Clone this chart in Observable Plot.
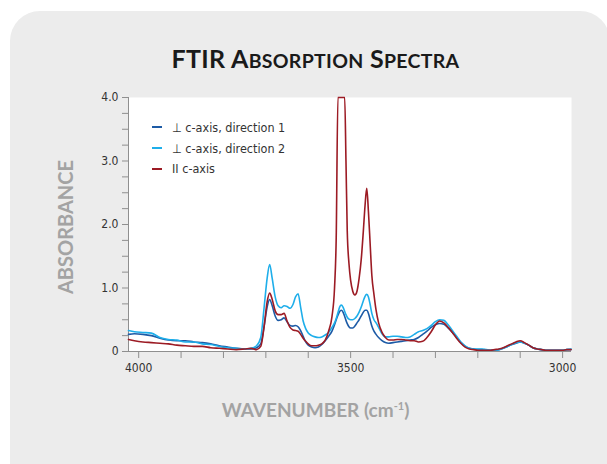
<!DOCTYPE html>
<html>
<head>
<meta charset="utf-8">
<script src="https://cdn.jsdelivr.net/npm/d3@7"></script>
<script src="https://cdn.jsdelivr.net/npm/@observablehq/plot@0.6"></script>
<style>
  html, body { margin: 0; padding: 0; background: #fff; }
  body { width: 607px; height: 464px; overflow: hidden; position: relative; }
  #panel { position: absolute; left: 10px; top: 11px; width: 600px; height: 470px;
           background: #ececec; border-radius: 30px 30px 0 0; }
  #chart { position: absolute; left: 0; top: 0; }
  .heading { position: absolute; font-family: Lato, "Open Sans", sans-serif; font-weight: 700; white-space: nowrap; }
  #title { left: 0; width: 631px; top: 43px; text-align: center; font-size: 25px; color: #1a1a1a; letter-spacing: 0.3px; }
  #title .sc { font-size: 19.5px; }
  #ylabel { left: 65px; top: 227px; font-size: 20px; color: #a3a3a3;
            transform: translate(-50%, -50%) rotate(-90deg); }
  #xlabel { left: 0; width: 631px; top: 398px; text-align: center; font-size: 19px; color: #a3a3a3; }
  #legend { position: absolute; left: 152px; top: 117px; font-family: "DejaVu Sans Condensed", "Liberation Sans", sans-serif;
            font-size: 12.5px; color: #333; }
  .row { display: flex; align-items: center; height: 20.8px; }
  .swatch { width: 10px; height: 2px; margin-right: 10px; }
</style>
</head>
<body>
<div id="panel"></div>
<div id="title" class="heading">FTIR A<span class="sc">BSORPTION</span> S<span class="sc">PECTRA</span></div>
<div id="chart"></div>
<div id="ylabel" class="heading">ABSORBANCE</div>
<div id="xlabel" class="heading">WAVENUMBER (cm<sup style="font-size:11px">-1</sup>)</div>
<div id="legend"></div>
<script>
// Wavenumber grid (cm^-1) shared by the three polarised spectra
const wavenumber = [
  4024,4010,3990,3970,3950,3930,3910,3890,3870,3850,
  3830,3810,3790,3770,3750,3735,3722,3712,3704,3697,
  3691,3685,3678,3671,3664,3657,3650,3643,3636,3630,
  3624,3618,3612,3606,3600,3592,3584,3576,3568,3560,
  3552,3544,3538,3534,3530,3526,3522,3518,3514,3511,
  3508,3504,3500,3495,3490,3485,3480,3475,3470,3466,
  3462,3458,3454,3450,3445,3440,3434,3426,3418,3410,
  3400,3390,3380,3370,3360,3350,3340,3330,3320,3310,
  3300,3290,3280,3270,3260,3250,3240,3230,3220,3210,
  3200,3190,3180,3170,3160,3150,3140,3130,3120,3110,
  3100,3090,3080,3070,3060,3050,3040,3030,3020,3010,
  3000,2990,2980
];

// Absorbance, E ⊥ c, direction 1
const perpDir1 = [
  0.27,0.28,0.27,0.25,0.21,0.18,0.17,0.17,0.15,0.14,
  0.12,0.09,0.07,0.05,0.04,0.04,0.06,0.12,0.40,0.70,
  0.82,0.72,0.56,0.49,0.50,0.53,0.47,0.41,0.40,0.41,
  0.39,0.33,0.24,0.15,0.10,0.07,0.06,0.07,0.11,0.17,
  0.24,0.32,0.42,0.50,0.57,0.63,0.65,0.62,0.55,0.49,
  0.44,0.39,0.37,0.37,0.40,0.45,0.50,0.56,0.62,0.65,
  0.65,0.60,0.50,0.40,0.32,0.27,0.22,0.17,0.14,0.13,
  0.14,0.15,0.16,0.17,0.18,0.19,0.22,0.27,0.32,0.38,
  0.42,0.44,0.43,0.37,0.30,0.22,0.14,0.08,0.05,0.04,
  0.03,0.03,0.02,0.02,0.02,0.03,0.05,0.08,0.11,0.13,
  0.15,0.13,0.10,0.06,0.04,0.03,0.02,0.02,0.02,0.02,
  0.02,0.03,0.03
];

// Absorbance, E ⊥ c, direction 2
const perpDir2 = [
  0.33,0.31,0.30,0.29,0.22,0.19,0.18,0.15,0.15,0.12,
  0.11,0.08,0.06,0.05,0.04,0.05,0.09,0.22,0.70,1.15,
  1.37,1.15,0.86,0.72,0.69,0.72,0.71,0.68,0.74,0.86,
  0.91,0.70,0.48,0.36,0.29,0.25,0.23,0.22,0.23,0.26,
  0.30,0.38,0.45,0.52,0.61,0.70,0.73,0.70,0.63,0.58,
  0.54,0.51,0.50,0.50,0.52,0.56,0.62,0.70,0.80,0.87,
  0.90,0.86,0.74,0.60,0.50,0.45,0.38,0.28,0.23,0.23,
  0.24,0.24,0.23,0.22,0.23,0.27,0.31,0.33,0.36,0.41,
  0.47,0.50,0.49,0.42,0.33,0.24,0.15,0.09,0.05,0.04,
  0.04,0.04,0.03,0.02,0.02,0.03,0.05,0.08,0.11,0.14,
  0.15,0.13,0.10,0.06,0.04,0.03,0.02,0.02,0.02,0.02,
  0.02,0.03,0.04
];

// Absorbance, E ∥ c (the strongest band saturates at the 4.0 ceiling)
const parallel = [
  0.19,0.17,0.15,0.14,0.13,0.12,0.10,0.09,0.08,0.08,
  0.06,0.05,0.04,0.03,0.04,0.05,0.03,0.08,0.40,0.78,
  0.92,0.82,0.64,0.58,0.58,0.60,0.48,0.38,0.34,0.33,
  0.32,0.27,0.21,0.16,0.12,0.09,0.09,0.10,0.12,0.18,
  0.32,0.55,1.00,1.80,4.00,4.00,4.00,4.00,4.00,3.00,
  1.90,1.39,1.12,0.95,0.89,0.95,1.15,1.45,1.90,2.30,
  2.57,2.20,1.70,1.20,0.90,0.65,0.45,0.30,0.22,0.18,
  0.18,0.19,0.19,0.18,0.17,0.17,0.15,0.16,0.22,0.31,
  0.42,0.48,0.45,0.38,0.30,0.21,0.13,0.07,0.04,0.03,
  0.02,0.02,0.02,0.02,0.03,0.04,0.06,0.09,0.12,0.15,
  0.17,0.14,0.10,0.06,0.04,0.03,0.02,0.02,0.02,0.02,
  0.02,0.03,0.03
];

const seriesNames = ["⊥ c-axis, direction 1", "⊥ c-axis, direction 2", "II c-axis"];
const seriesColors = ["#1d5ba6", "#1eaeea", "#9c1b24"];
const seriesValues = [perpDir1, perpDir2, parallel];

const xDomain = [4024, 2979];
const yDomain = [0, 4];
const xTicks = [4000, 3900, 3800, 3700, 3600, 3500, 3400, 3300, 3200, 3100, 3000];
const xTickLabels = {4000: "4000", 3500: "3500", 3000: "3000"};
const yTicks = [0, 0.25, 0.5, 0.75, 1, 1.25, 1.5, 1.75, 2, 2.25, 2.5, 2.75, 3, 3.25, 3.5, 3.75, 4];
const yTickLabels = {0: "0", 1: "1.0", 2: "2.0", 3: "3.0", 4: "4.0"};

// Long-format table for the line mark
const rows = [];
seriesNames.forEach((name, s) => {
  wavenumber.forEach((w, i) => rows.push({series: name, wavenumber: w, absorbance: seriesValues[s][i]}));
});

const axisGray = "#8f8f8f";
const tickFont = "'DejaVu Sans Condensed', 'Liberation Sans', sans-serif";

const chart = Plot.plot({
  width: 607,
  height: 464,
  marginLeft: 128,
  marginRight: 36,
  marginTop: 97,
  marginBottom: 113,
  style: {background: "transparent", fontFamily: tickFont, fontSize: "12px", color: "#333"},
  x: {domain: xDomain},
  y: {domain: yDomain},
  color: {domain: seriesNames, range: seriesColors},
  marks: [
    Plot.frame({fill: "white", stroke: "none"}),
    Plot.axisX(xTicks, {
      tickSize: 7, tickPadding: 5, stroke: axisGray, fill: "#333", fontSize: 12,
      tickFormat: d => xTickLabels[d] ?? "", label: null
    }),
    Plot.axisY(yTicks, {
      tickSize: 6, tickPadding: 4, stroke: axisGray, fill: "#333", fontSize: 12,
      tickFormat: d => yTickLabels[d] ?? "", label: null
    }),
    Plot.ruleX([xDomain[0]], {stroke: axisGray}),
    Plot.ruleY([yDomain[0]], {stroke: axisGray}),
    Plot.line(rows, {
      x: "wavenumber", y: "absorbance", z: "series", stroke: "series",
      strokeWidth: 1.6, curve: "monotone-x"
    })
  ]
});
document.getElementById("chart").appendChild(chart);

// Legend drawn inside the plot area
const legend = d3.select("#legend");
seriesNames.forEach((name, i) => {
  const row = legend.append("div").attr("class", "row");
  row.append("div").attr("class", "swatch").style("background", seriesColors[i]);
  row.append("span").text(name);
});
</script>
</body>
</html>
